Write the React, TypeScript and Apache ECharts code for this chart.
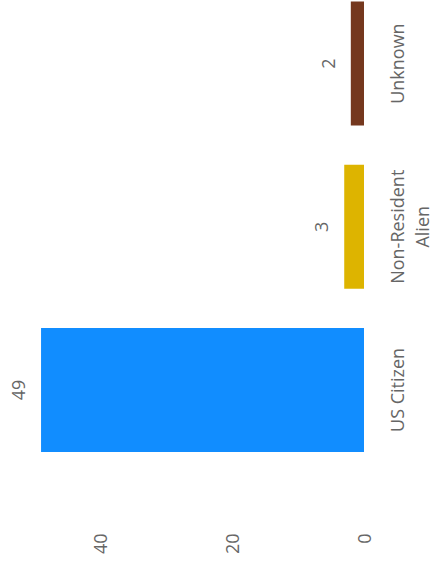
import React, { useEffect, useRef } from "react";
import * as echarts from "echarts";

const categories = ["US Citizen", "Non-Resident\nAlien", "Unknown"];
const values = [49, 3, 2];
const barColors = ["#118DFF", "#DDB400", "#75381E"];
const valueTicks = [0, 20, 40];

const FONT = "'Segoe UI', 'Open Sans', 'Noto Sans', sans-serif";
const TEXT = "#666666";

export default function App() {
  const ref = useRef<HTMLDivElement>(null);
  useEffect(() => {
    if (!ref.current) return;
    const chart = echarts.init(ref.current, undefined, { renderer: "svg" });
    chart.setOption({
      animation: false,
      grid: { left: 1.5, right: 64, top: 0, bottom: 90.5, containLabel: false },
      xAxis: {
        type: "value",
        inverse: true,
        min: 0,
        max: 55,
        interval: 20,
        splitLine: { show: false },
        axisLine: { show: false },
        axisTick: { show: false },
        axisLabel: {
          rotate: 90,
          margin: 62,
          color: TEXT,
          fontSize: 18,
          fontFamily: FONT,
          showMaxLabel: false,
          formatter: (v: number) => (valueTicks.includes(v) ? String(v) : ""),
        },
      },
      yAxis: {
        type: "category",
        position: "right",
        data: categories,
        axisLine: { show: false },
        axisTick: { show: false },
        axisLabel: {
          rotate: 90,
          margin: 20,
          align: "center",
          verticalAlign: "top",
          lineHeight: 25,
          color: TEXT,
          fontSize: 18,
          fontFamily: FONT,
        },
      },
      series: [
        {
          type: "bar",
          barWidth: 124,
          data: values.map((v, i) => ({ value: v, itemStyle: { color: barColors[i] } })),
          label: {
            show: true,
            position: "left",
            distance: 14,
            rotate: 90,
            align: "center",
            verticalAlign: "bottom",
            color: TEXT,
            fontSize: 18,
            fontFamily: FONT,
          },
        },
      ],
    });
    return () => chart.dispose();
  }, []);
  return (
    <div
      ref={ref}
      style={{ position: "fixed", left: 0, top: -18, width: 434, height: 580, background: "#fff" }}
    />
  );
}
